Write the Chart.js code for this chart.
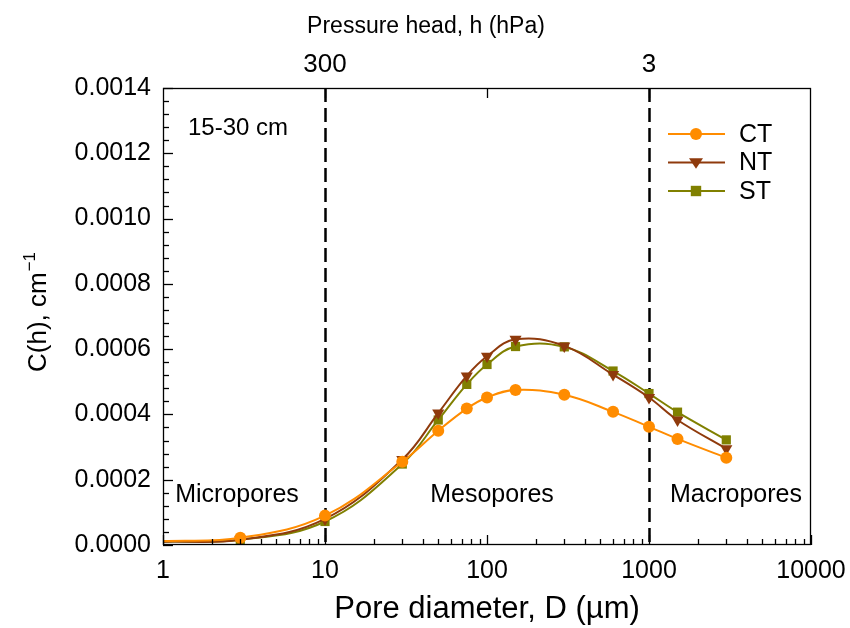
<!DOCTYPE html>
<html>
<head>
<meta charset="utf-8">
<script src="https://cdn.jsdelivr.net/npm/chart.js@4/dist/chart.umd.min.js"></script>
<style>
  html, body { margin: 0; padding: 0; background: #fff; }
  #wrap { width: 850px; height: 628px; }
</style>
</head>
<body>
<div id="wrap"><canvas id="c" width="850" height="628"></canvas></div>
<script>
// ---- data ----
const poreDiameter = [1, 3, 10, 30, 50, 75, 100, 150, 300, 600, 1000, 1500, 3000];
const ctValues = [0.000012, 0.000022, 0.000090, 0.000255, 0.000350, 0.000418, 0.000452, 0.000475, 0.000460, 0.000408, 0.000362, 0.000325, 0.000267];
const ntValues = [0.000010, 0.000016, 0.000080, 0.000262, 0.000404, 0.000518, 0.000578, 0.000630, 0.000610, 0.000522, 0.000452, 0.000383, 0.000295];
const stValues = [0.000010, 0.000016, 0.000072, 0.000248, 0.000383, 0.000492, 0.000553, 0.000608, 0.000607, 0.000533, 0.000464, 0.000407, 0.000322];
const seriesNames = ['CT', 'NT', 'ST'];
const bottomTicks = [1, 10, 100, 1000, 10000];
const topTickValues = [10, 100, 1000];
const topTickLabels = ['300', '', '3'];
const boundaryLines = [10, 1000];
const yTickStep = 0.0002;

const FONT = '"Liberation Sans", Arial, Helvetica, sans-serif';
const colors = ['#ff8c00', '#8f3a0c', '#808000'];
const styles = ['circle', 'triangle', 'rect'];
const rotations = [0, 180, 0];
const radii = [6, 7, 6.5];

function mkData(vals) { return poreDiameter.map((d, i) => ({ x: d, y: vals[i] })); }
const radiusArr = (r) => poreDiameter.map((d) => d === 1 ? 0 : r);

const datasets = [ctValues, ntValues, stValues].map((vals, i) => ({
  label: seriesNames[i],
  data: mkData(vals),
  borderColor: colors[i],
  backgroundColor: colors[i],
  borderWidth: 2,
  pointStyle: styles[i],
  pointRotation: rotations[i],
  pointRadius: radiusArr(radii[i]),
  pointBorderWidth: 0,
  tension: 0.4,
  xAxisID: 'x',
  yAxisID: 'y'
}));

function drawMarker(ctx, style, x, y, r, color) {
  ctx.save();
  ctx.fillStyle = color;
  ctx.beginPath();
  if (style === 'circle') {
    ctx.arc(x, y, r, 0, Math.PI * 2);
  } else if (style === 'triangle') {
    ctx.moveTo(x - r, y - r * 0.6);
    ctx.lineTo(x + r, y - r * 0.6);
    ctx.lineTo(x, y + r * 0.9);
    ctx.closePath();
  } else {
    ctx.rect(x - r * 0.8, y - r * 0.8, r * 1.6, r * 1.6);
  }
  ctx.fill();
  ctx.restore();
}

const decor = {
  id: 'decor',
  beforeDatasetsDraw(chart) {
    const { ctx, chartArea: a, scales } = chart;
    const xs = scales.x;
    ctx.save();
    ctx.strokeStyle = '#000';
    ctx.lineWidth = 2.5;
    ctx.setLineDash([14, 6]);
    boundaryLines.forEach(v => {
      const px = Math.round(xs.getPixelForValue(v)) + 0.5;
      ctx.beginPath();
      ctx.moveTo(px, a.top);
      ctx.lineTo(px, a.bottom);
      ctx.stroke();
    });
    ctx.setLineDash([]);
    ctx.restore();
  },
  afterDraw(chart) {
    const { ctx, chartArea: a, scales } = chart;
    const xs = scales.x, ys = scales.y, xt = scales.x2;
    ctx.save();
    ctx.strokeStyle = '#000';
    ctx.lineWidth = 1.3;
    ctx.strokeRect(a.left + 0.5, a.top + 0.5, a.right - a.left - 1, a.bottom - a.top - 1);
    for (let d = 1; d <= 10000; d *= 10) {
      for (let m = 1; m <= 9; m++) {
        const v = m * d;
        if (v > 10000) break;
        const px = Math.round(xs.getPixelForValue(v)) + 0.5;
        const len = m === 1 ? 10 : 6;
        ctx.beginPath();
        ctx.moveTo(px, a.bottom);
        ctx.lineTo(px, a.bottom - len);
        ctx.stroke();
      }
    }
    topTickValues.forEach(v => {
      const px = Math.round(xt.getPixelForValue(v)) + 0.5;
      ctx.beginPath();
      ctx.moveTo(px, a.top);
      ctx.lineTo(px, a.top + 10);
      ctx.stroke();
    });
    const minor = yTickStep / 5;
    for (let k = 0; k <= Math.round(0.0014 / minor); k++) {
      const v = k * minor;
      const py = Math.round(ys.getPixelForValue(v)) + 0.5;
      const len = (k % 5 === 0) ? 10 : 6;
      ctx.beginPath();
      ctx.moveTo(a.left, py);
      ctx.lineTo(a.left + len, py);
      ctx.stroke();
    }
    // top axis title (centred on the page)
    ctx.fillStyle = '#000';
    ctx.textBaseline = 'middle';
    ctx.textAlign = 'center';
    ctx.font = '23px ' + FONT;
    ctx.fillText('Pressure head, h (hPa)', 426, 27);
    // y axis title with superscript
    ctx.save();
    ctx.translate(46, 372);
    ctx.rotate(-Math.PI / 2);
    ctx.textAlign = 'left';
    ctx.textBaseline = 'alphabetic';
    ctx.font = '26px ' + FONT;
    const main = 'C(h), cm';
    ctx.fillText(main, 0, 0);
    const w = ctx.measureText(main).width;
    ctx.font = '17px ' + FONT;
    ctx.fillText('\u22121', w + 1, -11);
    ctx.restore();
    // annotations
    ctx.font = '24px ' + FONT;
    ctx.textBaseline = 'middle';
    ctx.textAlign = 'left';
    ctx.fillText('15-30 cm', a.left + 25, a.top + 40);
    ctx.font = '25px ' + FONT;
    ctx.textAlign = 'center';
    ctx.fillText('Micropores', a.left + 74, a.top + 407);
    ctx.fillText('Mesopores', a.left + 329, a.top + 407);
    ctx.fillText('Macropores', a.left + 573, a.top + 407);
    // legend
    ctx.textAlign = 'left';
    ctx.font = '25px ' + FONT;
    chart.data.datasets.forEach((ds, i) => {
      const y = a.top + 46 + i * 28.5;
      ctx.strokeStyle = ds.borderColor;
      ctx.lineWidth = 2;
      ctx.beginPath();
      ctx.moveTo(a.left + 505, y);
      ctx.lineTo(a.left + 562, y);
      ctx.stroke();
      drawMarker(ctx, styles[i], a.left + 533, y, radii[i], ds.borderColor);
      ctx.fillStyle = '#000';
      ctx.fillText(ds.label, a.left + 576, y + 1);
    });
    ctx.restore();
  }
};

new Chart(document.getElementById('c'), {
  type: 'line',
  data: { datasets },
  options: {
    responsive: false,
    animation: false,
    layout: { padding: { left: 0, right: 39, top: 0, bottom: 0 } },
    plugins: { legend: { display: false }, tooltip: { enabled: false } },
    scales: {
      x: {
        type: 'logarithmic', position: 'bottom', min: 1, max: 10000,
        afterBuildTicks: (s) => { s.ticks = bottomTicks.map(v => ({ value: v })); },
        ticks: {
          autoSkip: false, maxRotation: 0, padding: 11, color: '#000',
          font: { family: FONT, size: 25 },
          callback: (v) => String(v)
        },
        grid: { display: false, drawTicks: false },
        border: { display: false },
        title: { display: true, text: 'Pore diameter, D (\u00b5m)', color: '#000', font: { family: FONT, size: 31 }, padding: { top: 6, bottom: 0 } },
        afterFit: (s) => { s.height = 83; s.paddingLeft = 0; s.paddingRight = 0; }
      },
      x2: {
        type: 'logarithmic', position: 'top', min: 1, max: 10000,
        afterBuildTicks: (s) => { s.ticks = topTickValues.map(v => ({ value: v })); },
        ticks: {
          autoSkip: false, maxRotation: 0, padding: 8, color: '#000',
          font: { family: FONT, size: 26 },
          callback: (v, i) => topTickLabels[i]
        },
        grid: { display: false, drawTicks: false },
        border: { display: false },
        title: { display: false },
        afterFit: (s) => { s.height = 88; s.paddingLeft = 0; s.paddingRight = 0; }
      },
      y: {
        type: 'linear', position: 'left', min: 0, max: 0.0014,
        ticks: {
          stepSize: yTickStep, padding: 12, color: '#000',
          font: { family: FONT, size: 25 },
          callback: (v) => Number(v).toFixed(4)
        },
        grid: { display: false, drawTicks: false },
        border: { display: false },
        title: { display: false },
        afterFit: (s) => { s.width = 163; s.paddingTop = 0; s.paddingBottom = 0; }
      }
    }
  },
  plugins: [decor]
});
</script>
</body>
</html>
